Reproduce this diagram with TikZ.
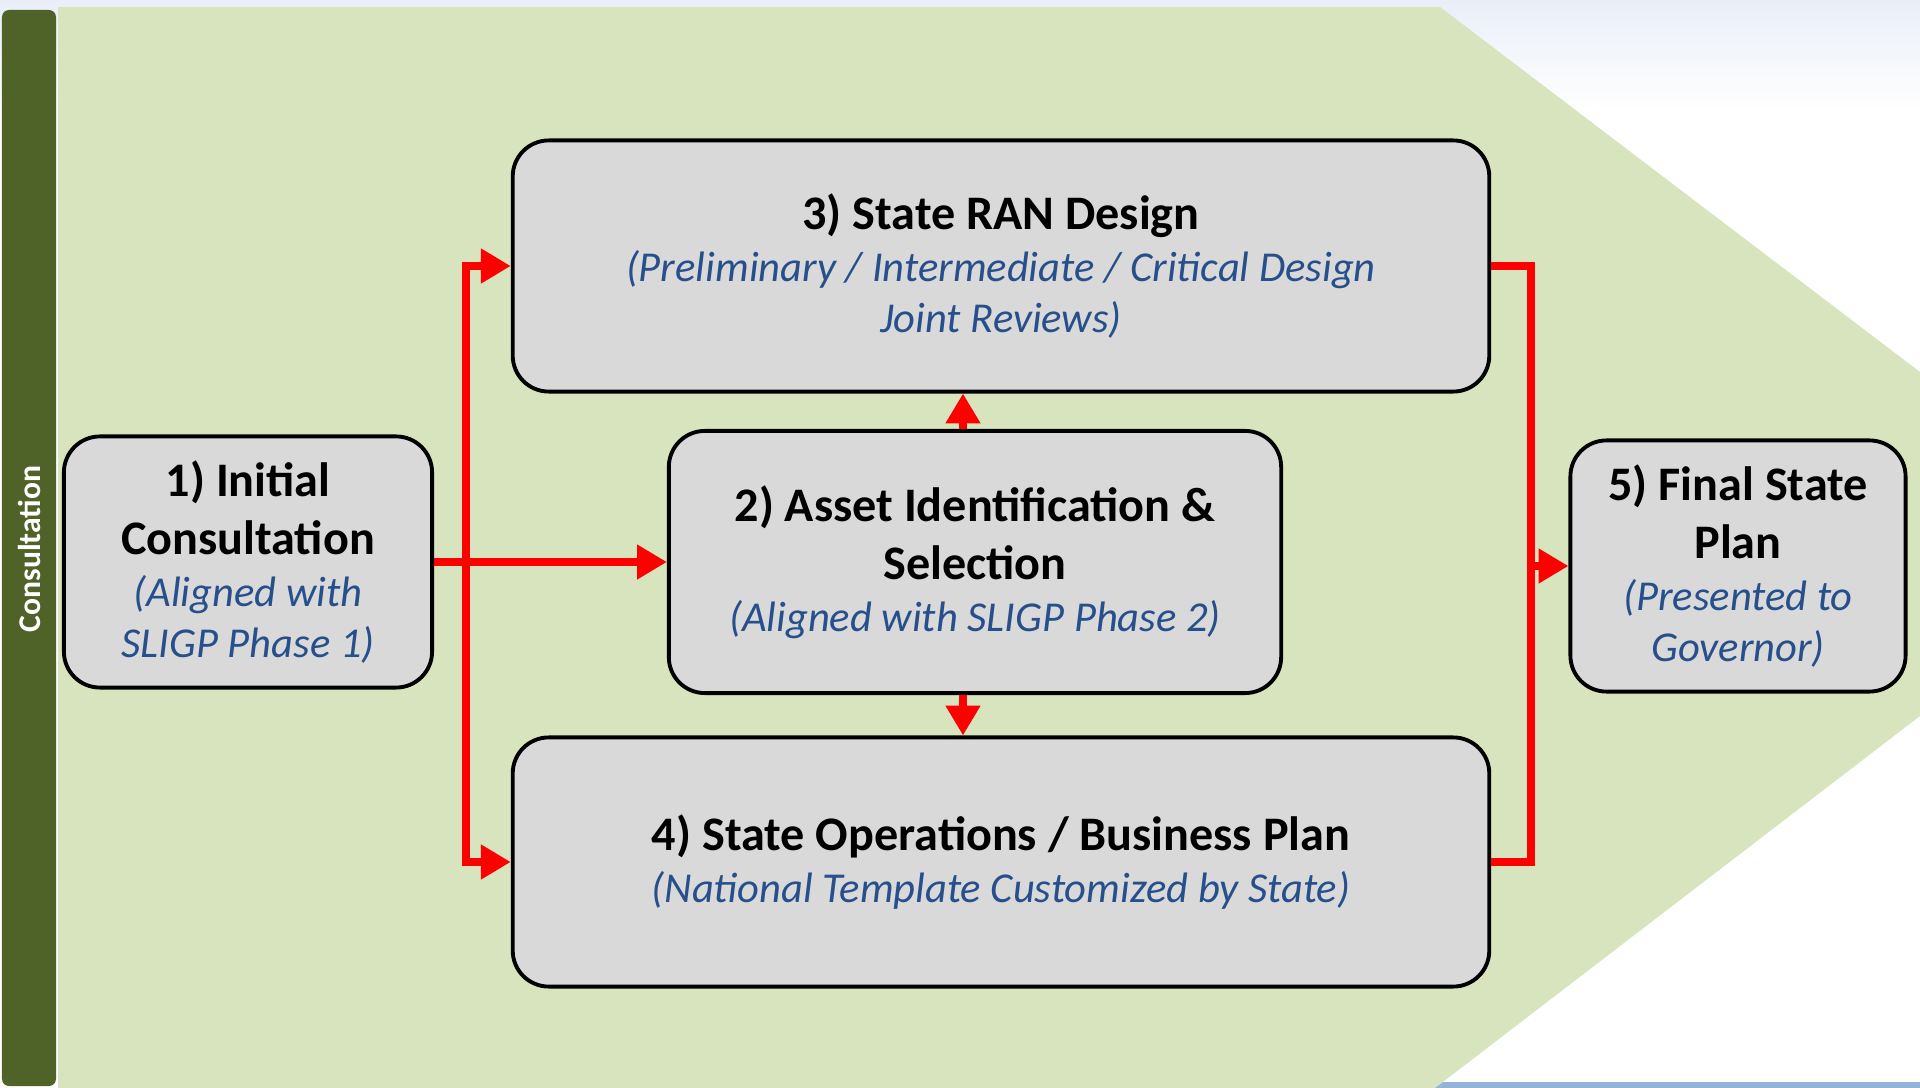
\documentclass[tikz,border=0pt]{standalone}
\usepackage{fontspec}
\setmainfont{Carlito}
\usetikzlibrary{arrows.meta,calc,positioning}
\definecolor{barGreen}{HTML}{4F6228}
\definecolor{bgGreen}{HTML}{D7E4BD}
\definecolor{boxGray}{HTML}{D9D9D9}
\definecolor{subBlue}{HTML}{264F8C}
\definecolor{topTint}{HTML}{E9EEF8}
\definecolor{edgeBlue}{HTML}{95B3D7}
\newcommand{\tline}[1]{{\fontsize{13.7}{14.6}\selectfont\bfseries #1}}
\newcommand{\sline}[1]{{\fontsize{12.1}{14.6}\selectfont\itshape\color{subBlue}#1}}

\begin{document}
\begin{tikzpicture}[x=0.01cm,y=-0.01cm,
  stage/.style={draw,line width=1.1pt,rounded corners=0.36cm,fill=boxGray,align=center,inner sep=0pt,font=\fontsize{12}{14.6}\selectfont},
  wire/.style={draw=red,line width=2.4pt},
  flow/.style={wire,-{Triangle[length=8.5pt,width=9.4pt]}}]
\useasboundingbox (0,0) rectangle (1920,1088);
% background
\shade[top color=topTint,bottom color=white] (0,0) rectangle (1920,110);
\fill[edgeBlue] (1400,1082) rectangle (1920,1088);
\fill[bgGreen] (58,7) -- (1440,7) -- (1920,372) -- (1920,716) -- (1435,1088) -- (58,1088) -- cycle;
\fill[barGreen,rounded corners=0.07cm] (2,10) rectangle (56,1086);
\node[rotate=90,text=white,font=\fontsize{9}{10}\selectfont\bfseries] (bar) at (29,549) {Consultation};
% stages
\node[stage,minimum width=3.68cm,minimum height=2.51cm] (initial) at (248,562) {\tline{1) Initial}\\[1.8pt]\tline{Consultation}\\[0.2pt]\sline{(Aligned with}\\\sline{SLIGP Phase 1)}};
\node[stage,minimum width=6.12cm,minimum height=2.62cm] (asset) at (975,562) {\tline{2) Asset Identification \&}\\[1.8pt]\tline{Selection}\\[0.2pt]\sline{(Aligned with SLIGP Phase 2)}};
\node[stage,minimum width=9.76cm,minimum height=2.51cm] (ran) at (1001,266) {\tline{3) State RAN Design}\\[0.2pt]\sline{(Preliminary / Intermediate / Critical Design}\\\sline{Joint Reviews)}};
\node[stage,minimum width=9.76cm,minimum height=2.49cm] (ops) at (1001,862) {\tline{4) State Operations / Business Plan}\\[0.2pt]\sline{(National Template Customized by State)}};
\node[stage,minimum width=3.35cm,minimum height=2.51cm] (final) at (1738,566) {\tline{5) Final State}\\[1.8pt]\tline{Plan}\\[0.2pt]\sline{(Presented to}\\\sline{Governor)}};
% connectors
\coordinate (split) at (466,562);
\coordinate (join) at (1531,566);
\coordinate (mid) at (963,0);
\draw[flow] (initial.east) -- (asset.west);
\draw[flow] (split) |- (ran.west);
\draw[flow] (split) |- (ops.west);
\draw[flow] (asset.north -| mid) -- (ran.south -| mid);
\draw[flow] (asset.south -| mid) -- (ops.north -| mid);
\draw[wire] (ran.east) -| (join) |- (ops.east);
\draw[flow] (join) -- (final.west);
\end{tikzpicture}
\end{document}
